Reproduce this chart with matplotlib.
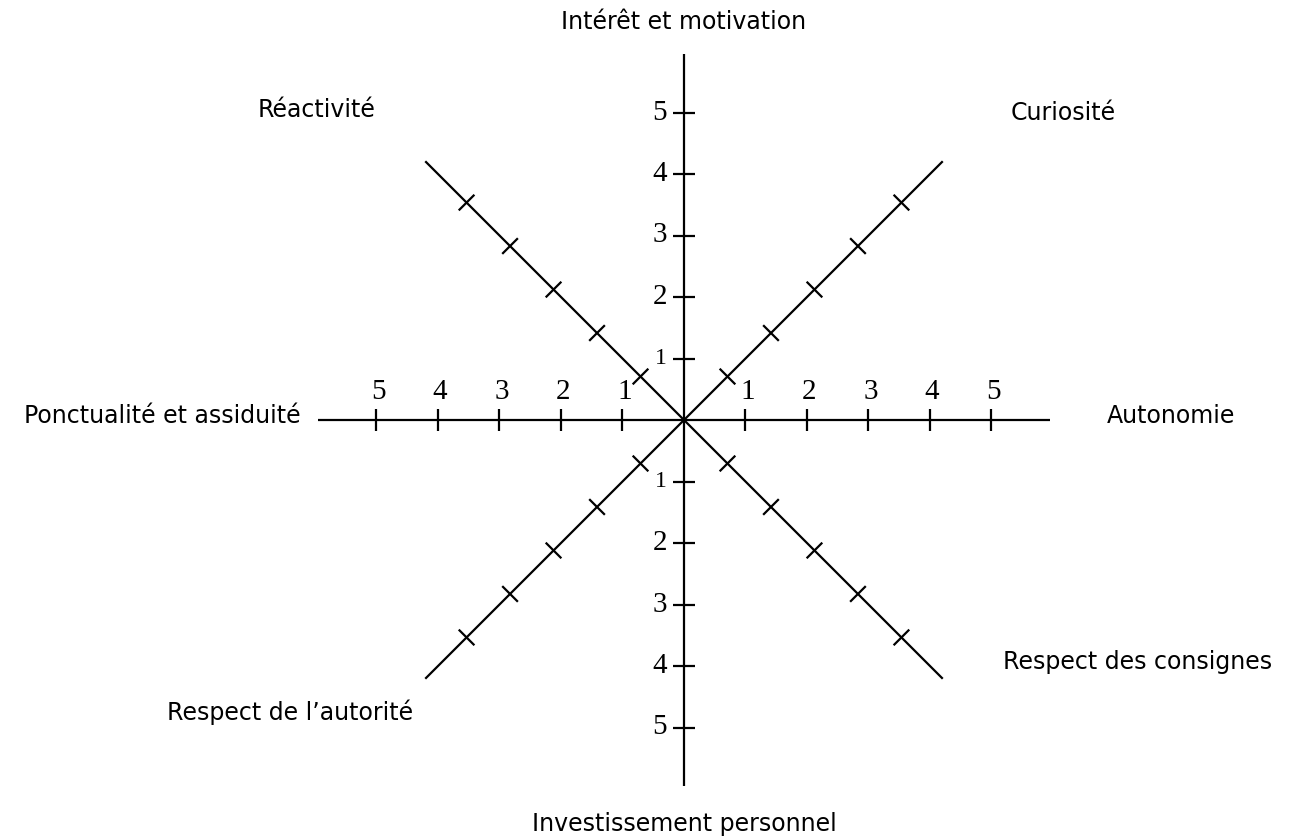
import numpy as np
import matplotlib
matplotlib.use("Agg")
import matplotlib.pyplot as plt

# Axis names, clockwise starting from the top
axis_names = [
    "Intérêt et motivation",
    "Curiosité",
    "Autonomie",
    "Respect des consignes",
    "Investissement personnel",
    "Respect de l\u2019autorité",
    "Ponctualité et assiduité",
    "Réactivité",
]
axis_angles = [90, 45, 0, -45, -90, -135, 180, 135]
tick_values = [1, 2, 3, 4, 5]
axis_length = 5.95

# Label placement (data units, 1 unit = one tick step)
label_pos = [
    (0.0, 6.47, "center"),
    (6.16, 4.99, "center"),
    (7.92, 0.07, "center"),
    (7.37, -3.93, "center"),
    (0.0, -6.57, "center"),
    (-6.41, -4.75, "center"),
    (-6.24, 0.07, "right"),
    (-5.98, 5.04, "center"),
]

px_per_unit = 61.5
W, H = 1313, 840
cx, cy = 684, 420

fig = plt.figure(figsize=(W / 100, H / 100), dpi=100)
ax = fig.add_axes([0, 0, 1, 1])
ax.set_xlim(-cx / px_per_unit, (W - cx) / px_per_unit)
ax.set_ylim(-(H - cy) / px_per_unit, cy / px_per_unit)
ax.axis("off")

lw = 1.6
tick_half = 0.18

# Draw the 8 half-axes from the centre
for ang in axis_angles:
    a = np.deg2rad(ang)
    ux, uy = np.cos(a), np.sin(a)
    ax.plot([0, axis_length * ux], [0, axis_length * uy], color="black", lw=lw,
            solid_capstyle="butt")
    # perpendicular ticks
    px, py = -uy, ux
    for v in tick_values:
        tx, ty = v * ux, v * uy
        ax.plot([tx - tick_half * px, tx + tick_half * px],
                [ty - tick_half * py, ty + tick_half * py],
                color="black", lw=lw, solid_capstyle="butt")

# Numbers on the horizontal axis (above)
for v in tick_values:
    for sgn in (-1, 1):
        ax.text(sgn * v + 0.03, 0.45, str(v), ha="center", va="center",
                fontsize=21, family="Liberation Serif")

# Numbers on the vertical axis (left side)
for v in tick_values:
    size = 17 if v == 1 else 21
    for sgn in (-1, 1):
        ax.text(-0.28, sgn * v, str(v), ha="right", va="center",
                fontsize=size, family="Liberation Serif")

# Axis names
for name, (lx, ly, ha) in zip(axis_names, label_pos):
    ax.text(lx, ly, name, ha=ha, va="center", fontsize=17, family="DejaVu Sans")

fig.savefig("out.png", dpi=100)
